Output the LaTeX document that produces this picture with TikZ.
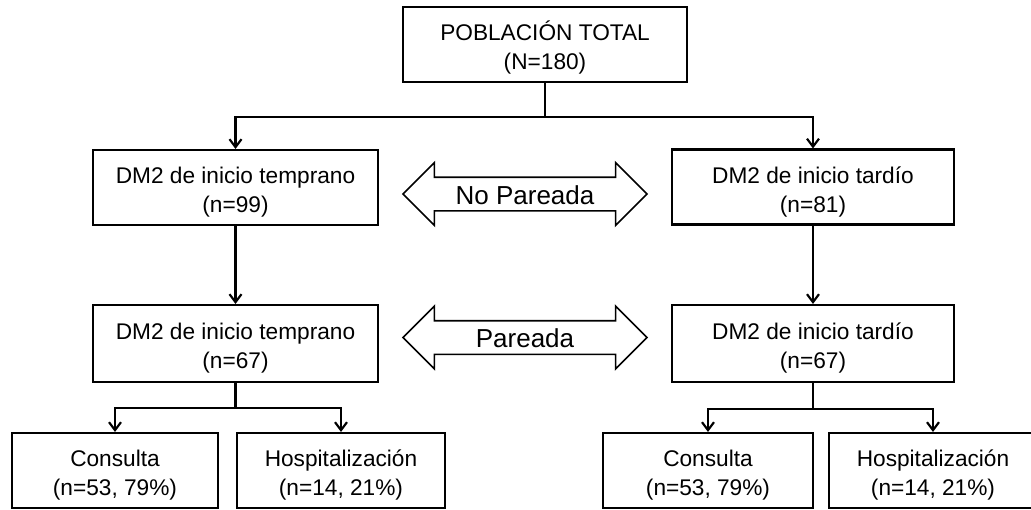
\documentclass[tikz,border=0pt]{standalone}
\usepackage{fontspec}
\setmainfont{Liberation Sans}
\usetikzlibrary{arrows.meta,shapes.arrows}
\newcommand{\alto}{\rule{0pt}{20pt}}

\begin{document}
\begin{tikzpicture}
		[x=0.75pt,y=-0.75pt,
		caja/.style={draw,line width=1.6pt,align=center,minimum height=56.25pt,inner sep=2pt,font=\fontsize{17pt}{21.75pt}\selectfont},
		linea/.style={line width=1.6pt},
		flecha/.style={line width=1.6pt,-{Straight Barb[length=6pt,width=9pt,line width=1.6pt]}},
		doble/.style={draw,line width=1.2pt,shape=double arrow,double arrow head extend=10.9pt,minimum height=183pt,inner xsep=0pt,inner ysep=0pt,text height=19.5pt,text depth=4.5pt,font=\fontsize{19.5pt}{24pt}\selectfont}]
		\useasboundingbox (0,0) rectangle (1031,510);
		% grupos
		\node[caja,minimum width=213pt,name=total] at (545,44.5) {\alto POBLACIÓN TOTAL\\(N=180)};
		\node[caja,minimum width=213.75pt,name=temprano] at (235.5,187.5) {\alto DM2 de inicio temprano\\(n=99)};
		\node[caja,minimum width=211.5pt,name=tardio] at (813,187) {\alto DM2 de inicio tardío\\(n=81)};
		\node[caja,minimum width=213.75pt,minimum height=57.75pt,name=tempranoP] at (235.5,343.5) {\alto DM2 de inicio temprano\\(n=67)};
		\node[caja,minimum width=211.5pt,minimum height=57.75pt,name=tardioP] at (813,343.5) {\alto DM2 de inicio tardío\\(n=67)};
		% desenlaces
		\node[caja,minimum width=154.5pt,name=consulta1] at (115,470.5) {\alto Consulta\\(n=53, 79\%)};
		\node[caja,minimum width=156pt,name=hosp1] at (341,470.5) {\alto Hospitalización\\(n=14, 21\%)};
		\node[caja,minimum width=157.5pt,name=consulta2] at (708,470.5) {\alto Consulta\\(n=53, 79\%)};
		\node[caja,minimum width=156pt,name=hosp2] at (933,470.5) {\alto Hospitalización\\(n=14, 21\%)};
		% comparaciones
		\node[doble,name=nopareada] at (525,194) {No Pareada};
		\node[doble,name=pareada] at (525,337.5) {Pareada};
		% conectores
		\draw[linea] (total.south) -- ++(0,34) coordinate (div0);
		\draw[flecha] (div0) -| (temprano.north);
		\draw[flecha] (div0) -| (tardio.north);
		\draw[flecha] (temprano.south) -- (tempranoP.north);
		\draw[flecha] (tardio.south) -- (tardioP.north);
		\draw[linea] (tempranoP.south) -- ++(0,25) coordinate (div1);
		\draw[flecha] (div1) -| (consulta1.north);
		\draw[flecha] (div1) -| (hosp1.north);
		\draw[linea] (tardioP.south) -- ++(0,26) coordinate (div2);
		\draw[flecha] (div2) -| (consulta2.north);
		\draw[flecha] (div2) -| (hosp2.north);
	\end{tikzpicture}
\end{document}
